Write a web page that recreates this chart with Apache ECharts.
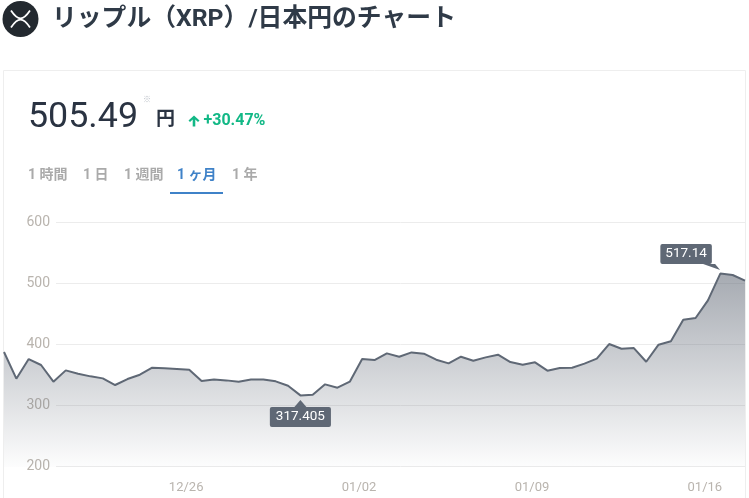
<!DOCTYPE html>
<html><head><meta charset="utf-8">
<style>html,body{margin:0;padding:0;background:#fff}#c{width:749px;height:498px}</style>
<script src="https://cdn.jsdelivr.net/npm/echarts@6/dist/echarts.min.js"></script>
</head><body><div id="c"></div>
<script>
const titleText = 'リップル（XRP）/日本円のチャート';
const priceText = '505.49';
const changeText = '+30.47%';
const tabs = ['1 時間','1 日','1 週間','1 ヶ月','1 年'];
const yTicks = [200,300,400,500,600];
const xTickDates = ['2024-12-26','2025-01-02','2025-01-09','2025-01-16'];
const startTime = '2024-12-18T15:00:00Z';
const stepHours = 12;
const prices = [388.5,344.8,377,367.2,339.9,358.4,353,348.6,345.3,334.4,344.2,351.3,362.8,361.7,360.6,359.5,340.9,343.6,342,339.9,
343.6,343.6,340.4,333.3,317.405,318.5,335.5,330,339.9,377,375.4,386.3,380.8,387.9,385.8,375.9,369.9,380.8,374.3,379.7,384.1,
372.1,367.7,371.6,357.9,362.3,362.8,369.4,377.6,401.6,393.9,395,372.6,400.5,406,441.5,444.2,473.2,517.14,514.7,505.49];
const lowIndex = 24, highIndex = 58;

const t0 = Date.parse(startTime);
const timeAt = i => t0 + i * stepHours * 3600000;
const lineData = prices.map((v,i)=>[timeAt(i),v]);
const CJK = 'Roboto,"Noto Sans CJK JP",sans-serif';
const tabX = [28,83,124,177,232];
const pad = n => String(n).padStart(2,'0');

const chart = echarts.init(document.getElementById('c'),null,{renderer:'canvas'});
const txt = (x,y,text,size,weight,fill,extra) => ({type:'text',x,y,silent:true,style:Object.assign({text,fontSize:size,fontWeight:weight,fontFamily:CJK,fill,textVerticalAlign:'middle',textAlign:'left'},extra||{})});
chart.setOption({
  animation:false,
  backgroundColor:'#fff',
  grid:[{left:4,right:4,top:223,height:244,containLabel:false},{left:56,right:4,top:222,height:244}],
  xAxis:[
    {type:'value',gridIndex:0,min:timeAt(0),max:timeAt(prices.length-1),scale:true,
     axisLine:{show:false},axisTick:{show:false},splitLine:{show:false},
     axisLabel:{customValues:xTickDates.map(d=>Date.parse(d+'T00:00:00Z')),margin:14,color:'#b9b4ae',fontSize:13,fontFamily:'Roboto',hideOverlap:false,
       formatter:v=>{const d=new Date(v);return pad(d.getUTCMonth()+1)+'/'+pad(d.getUTCDate());}}},
    {type:'value',gridIndex:1,min:0,max:1,show:false}
  ],
  yAxis:[
    {type:'value',gridIndex:0,min:yTicks[0],max:yTicks[4],show:false},
    {type:'value',gridIndex:1,min:yTicks[0],max:yTicks[4],interval:100,axisLine:{show:false},axisTick:{show:false},
     splitLine:{lineStyle:{color:'#ececec',width:1}},
     axisLabel:{margin:6,color:'#b9b4ae',fontSize:14,fontFamily:'Roboto',padding:[4,0,0,0]}}
  ],
  series:[{
    type:'line',xAxisIndex:0,yAxisIndex:0,data:lineData,symbol:'none',smooth:false,
    lineStyle:{color:'#5f6875',width:2},
    areaStyle:{color:{type:'linear',x:0,y:0,x2:0,y2:1,colorStops:[{offset:0,color:'rgba(96,104,117,0.8)'},{offset:1,color:'rgba(96,104,117,0.02)'}]}},
    markPoint:{silent:true,animation:false,data:[
      {coord:[timeAt(lowIndex),prices[lowIndex]],value:prices[lowIndex],symbol:'triangle',symbolSize:[12,7],symbolOffset:[0,8],itemStyle:{color:'#5f6875'},
       label:{show:true,position:'bottom',distance:0,formatter:String(prices[lowIndex]),color:'#fff',fontSize:13.5,fontFamily:'Roboto',backgroundColor:'#5f6875',borderRadius:2,padding:[3,6]}},
      {coord:[timeAt(highIndex),prices[highIndex]],value:prices[highIndex],symbol:'path://M0 0L12 0L17 6Z',symbolSize:[17,6],symbolOffset:[-8.7,-6.5],itemStyle:{color:'#5f6875'},
       label:{show:true,position:'top',distance:0,offset:[-25.5,0],formatter:String(prices[highIndex]),color:'#fff',fontSize:13.5,fontFamily:'Roboto',backgroundColor:'#5f6875',borderRadius:2,padding:[3,5]}}
    ]}
  }],
  graphic:{elements:[
    {type:'rect',silent:true,z:-1,shape:{x:3.5,y:70.5,width:742,height:440},style:{fill:'#fff',stroke:'#eeeeee',lineWidth:1}},
    {type:'circle',silent:true,shape:{cx:20.5,cy:19,r:18},style:{fill:'#23292f'}},
    {type:'bezierCurve',silent:true,shape:{x1:11,y1:10.5,cpx1:18,cpy1:21,cpx2:23,cpy2:21,x2:30,y2:10.5},style:{fill:null,stroke:'#fff',lineWidth:1.8}},
    {type:'bezierCurve',silent:true,shape:{x1:11,y1:27.5,cpx1:18,cpy1:17,cpx2:23,cpy2:17,x2:30,y2:27.5},style:{fill:null,stroke:'#fff',lineWidth:1.8}},
    txt(52,20,titleText,24.8,'bold','#2f3a47'),
    txt(28,118,priceText,35.8,'normal','#2a3342'),
    txt(143,100,'※',8,'normal','#b9bec6'),
    txt(156,120,'円',19,'bold','#2a3342'),
    {type:'polygon',silent:true,shape:{points:[[194,115.5],[199.5,120.5],[198,122],[195.3,119.5],[195.3,126.5],[192.7,126.5],[192.7,119.5],[190,122],[188.5,120.5]]},style:{fill:'#12b886'}},
    txt(203.5,121,changeText,16,'bold','#12b886'),
    ...tabs.map((t,i)=>txt(tabX[i],175,t,14,'bold',i===3?'#3f82c8':'#aaaaaa')),
    {type:'rect',silent:true,shape:{x:170,y:192,width:53,height:2},style:{fill:'#3f82c8'}}
  ]}
});
</script></body></html>
